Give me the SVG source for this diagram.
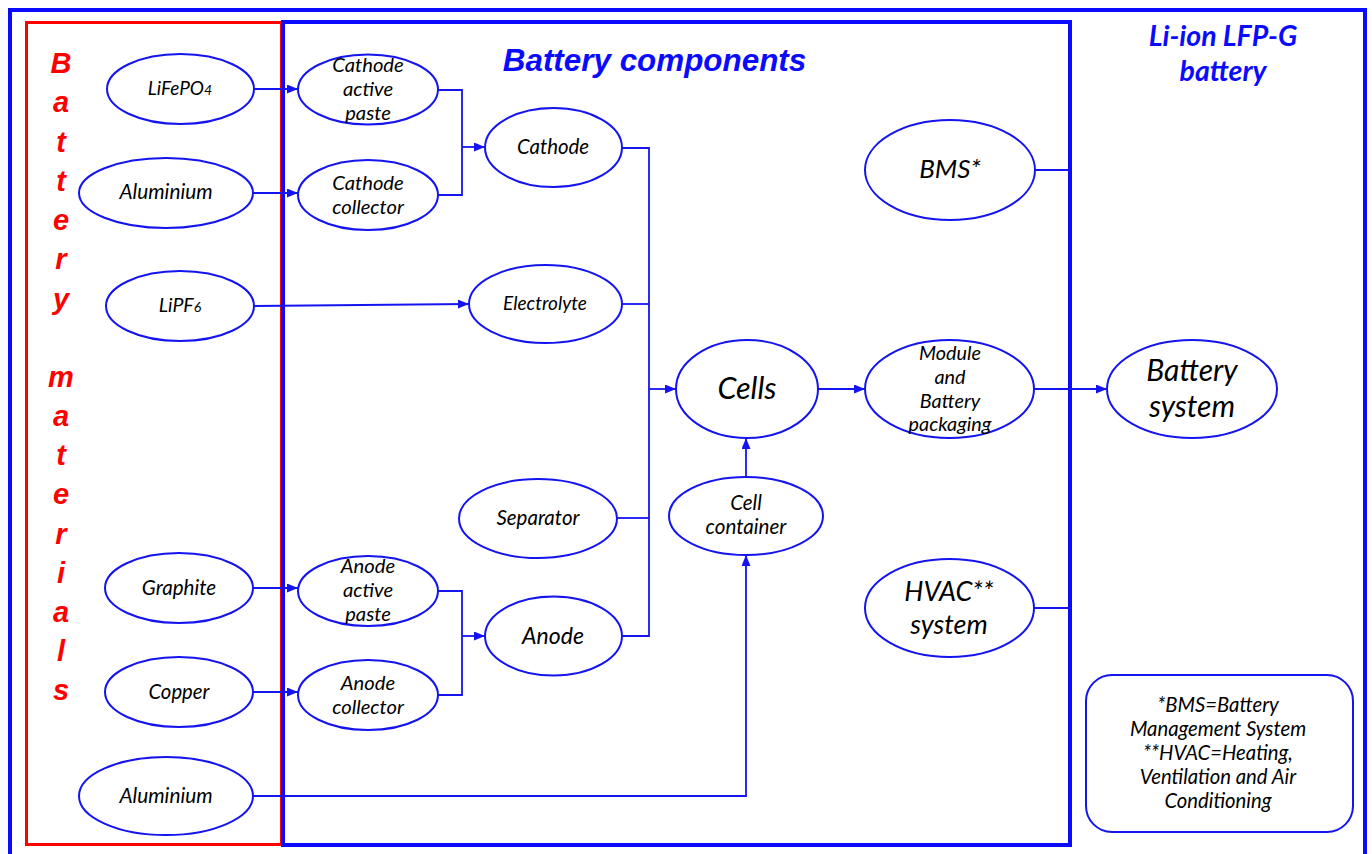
<svg xmlns="http://www.w3.org/2000/svg" width="1372" height="854" viewBox="0 0 1372 854">
<style>
.n{fill:#fff;stroke:#1414f0;stroke-width:2}
.t{font-family:Lato,"Open Sans",sans-serif;font-style:italic;fill:#000;text-anchor:middle}
.c{fill:none;stroke:#1414f0;stroke-width:1.8}
.frame{fill:none;stroke:#0a0aff}
.bm{font-family:"Liberation Sans",Arial,sans-serif;font-weight:bold;font-style:italic;font-size:29px;fill:#ff0000;text-anchor:middle}
</style>
<defs>
<marker id="ah" markerWidth="11" markerHeight="9" refX="11" refY="4.5" orient="auto" markerUnits="userSpaceOnUse">
<path d="M0,0 L11,4.5 L0,9 z" fill="#1414f0"/>
</marker>
</defs>
<rect x="0" y="0" width="1372" height="854" fill="#fff"/>
<g id="frames">
<rect class="frame" x="10" y="10" width="1355" height="850" stroke-width="4"/>
<rect x="26.5" y="22.5" width="255" height="822" fill="none" stroke="#ff0000" stroke-width="3"/>
<rect class="frame" x="283" y="22" width="787" height="823" stroke-width="4"/>
<text x="654.5" y="71" font-family="Liberation Sans,Arial,sans-serif" font-weight="bold" font-style="italic" font-size="31.4" fill="#0a0aff" text-anchor="middle">Battery components</text>
<text font-family="Lato,sans-serif" font-weight="bold" font-style="italic" font-size="28.5" fill="#0a0aff" text-anchor="middle"><tspan x="1223" y="46">Li-ion LFP-G</tspan><tspan x="1223" y="81">battery</tspan></text>
<g class="bm">
<text x="61" y="73">B</text><text x="61" y="112">a</text><text x="61" y="152">t</text><text x="61" y="191">t</text><text x="61" y="230">e</text><text x="61" y="269">r</text><text x="61" y="309">y</text>
<text x="61" y="387">m</text><text x="61" y="426">a</text><text x="61" y="465">t</text><text x="61" y="504">e</text><text x="61" y="544">r</text><text x="61" y="583">i</text><text x="61" y="622">a</text><text x="61" y="661">l</text><text x="61" y="700">s</text>
</g>
</g>
<g id="connectors">
<path class="c" d="M254,89 H298" marker-end="url(#ah)"/>
<path class="c" d="M253,193 H298" marker-end="url(#ah)"/>
<path class="c" d="M254,306 L469,304" marker-end="url(#ah)"/>
<path class="c" d="M438,90 H462 V195 H438"/>
<path class="c" d="M462,147 H485" marker-end="url(#ah)"/>
<path class="c" d="M253,588 H298" marker-end="url(#ah)"/>
<path class="c" d="M252,692 H298" marker-end="url(#ah)"/>
<path class="c" d="M438,591 H462 V695 H438"/>
<path class="c" d="M462,636 H485" marker-end="url(#ah)"/>
<path class="c" d="M622,148 H649 V636 H622"/>
<path class="c" d="M622,304 H649"/>
<path class="c" d="M617,518 H649"/>
<path class="c" d="M649,389 H676" marker-end="url(#ah)"/>
<path class="c" d="M746,477 V438" marker-end="url(#ah)"/>
<path class="c" d="M253,796 H746 V555" marker-end="url(#ah)"/>
<path class="c" d="M818,389 H865" marker-end="url(#ah)"/>
<path class="c" d="M1034,389 H1107" marker-end="url(#ah)"/>
<path class="c" d="M1035,170 H1070"/>
<path class="c" d="M1035,608 H1070"/>
</g>
<g id="n-lifepo4"><ellipse class="n" cx="180.5" cy="89" rx="73.5" ry="35"/><text class="t" x="180" y="95" font-size="19">LiFePO<tspan font-size="14">4</tspan></text></g>
<g id="n-aluminium1"><ellipse class="n" cx="166" cy="193" rx="87" ry="35"/><text class="t" x="166" y="199" font-size="20.8">Aluminium</text></g>
<g id="n-lipf6"><ellipse class="n" cx="180" cy="306" rx="74" ry="35"/><text class="t" x="180" y="312" font-size="19.5">LiPF<tspan font-size="14">6</tspan></text></g>
<g id="n-graphite"><ellipse class="n" cx="179" cy="588" rx="74" ry="35"/><text class="t" x="179" y="595" font-size="20.6">Graphite</text></g>
<g id="n-copper"><ellipse class="n" cx="179" cy="692" rx="74" ry="35"/><text class="t" x="179" y="699" font-size="20.3">Copper</text></g>
<g id="n-aluminium2"><ellipse class="n" cx="166" cy="796" rx="87" ry="39"/><text class="t" x="166" y="803" font-size="20.8">Aluminium</text></g>
<g id="n-cathode-paste"><ellipse class="n" cx="368" cy="89.5" rx="70" ry="35"/><text class="t" font-size="20.2"><tspan x="368" y="72">Cathode</tspan><tspan x="368" y="96">active</tspan><tspan x="368" y="120">paste</tspan></text></g>
<g id="n-cathode-collector"><ellipse class="n" cx="368" cy="195" rx="70" ry="35"/><text class="t" font-size="20.2"><tspan x="368" y="190">Cathode</tspan><tspan x="368" y="214">collector</tspan></text></g>
<g id="n-anode-paste"><ellipse class="n" cx="368" cy="591" rx="70" ry="35"/><text class="t" font-size="20.2"><tspan x="368" y="573">Anode</tspan><tspan x="368" y="597">active</tspan><tspan x="368" y="621">paste</tspan></text></g>
<g id="n-anode-collector"><ellipse class="n" cx="368" cy="695" rx="70" ry="35"/><text class="t" font-size="20.2"><tspan x="368" y="690">Anode</tspan><tspan x="368" y="714">collector</tspan></text></g>
<g id="n-cathode"><ellipse class="n" cx="553.5" cy="147.5" rx="68.5" ry="39.5"/><text class="t" x="553" y="154" font-size="20.4">Cathode</text></g>
<g id="n-electrolyte"><ellipse class="n" cx="545.5" cy="304" rx="76.5" ry="39"/><text class="t" x="545" y="310" font-size="19">Electrolyte</text></g>
<g id="n-separator"><ellipse class="n" cx="538" cy="518.5" rx="79" ry="39.5"/><text class="t" x="538" y="525" font-size="20.5">Separator</text></g>
<g id="n-anode"><ellipse class="n" cx="553.5" cy="636" rx="68.5" ry="39.5"/><text class="t" x="553" y="644" font-size="23">Anode</text></g>
<g id="n-cells"><ellipse class="n" cx="747" cy="389" rx="71" ry="49"/><text class="t" x="747" y="399" font-size="30.5">Cells</text></g>
<g id="n-cell-container"><ellipse class="n" cx="746" cy="516" rx="77" ry="39"/><text class="t" font-size="20.6"><tspan x="746" y="510">Cell</tspan><tspan x="746" y="534">container</tspan></text></g>
<g id="n-bms"><ellipse class="n" cx="950" cy="170" rx="85" ry="50"/><text class="t" x="950" y="178" font-size="26">BMS*</text></g>
<g id="n-module"><ellipse class="n" cx="949.5" cy="389" rx="84.5" ry="49"/><text class="t" font-size="19.8"><tspan x="950" y="360">Module</tspan><tspan x="950" y="384">and</tspan><tspan x="950" y="408">Battery</tspan><tspan x="950" y="431">packaging</tspan></text></g>
<g id="n-hvac"><ellipse class="n" cx="949.5" cy="608" rx="84.5" ry="49"/><text class="t" font-size="27"><tspan x="949" y="601">HVAC**</tspan><tspan x="949" y="634">system</tspan></text></g>
<g id="n-battery-system"><ellipse class="n" cx="1192" cy="389" rx="85" ry="49"/><text class="t" font-size="30"><tspan x="1192" y="381">Battery</tspan><tspan x="1192" y="417">system</tspan></text></g>
<g id="n-footnote"><rect class="n" x="1086" y="675" width="267" height="157" rx="26" ry="26"/><text class="t" font-size="20.3"><tspan x="1218" y="712">*BMS=Battery</tspan><tspan x="1218" y="736">Management System</tspan><tspan x="1218" y="760">**HVAC=Heating,</tspan><tspan x="1218" y="784">Ventilation and Air</tspan><tspan x="1218" y="808">Conditioning</tspan></text></g>
</svg>
